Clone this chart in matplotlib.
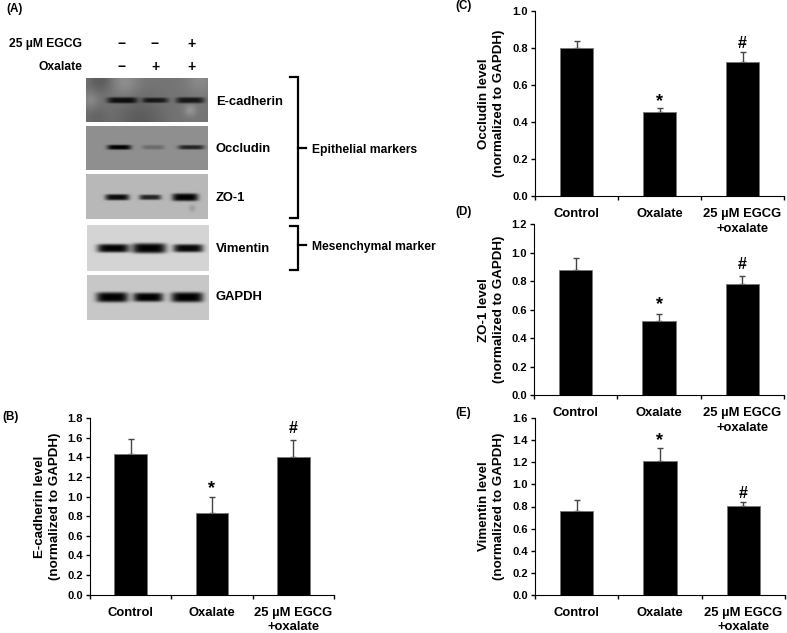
import numpy as np
import matplotlib
matplotlib.use('Agg')
import matplotlib.pyplot as plt

plt.rcParams['font.family'] = ['Liberation Sans', 'DejaVu Sans']
plt.rcParams['font.weight'] = 'bold'
plt.rcParams['axes.labelweight'] = 'bold'

W, H = 787, 633

# bar chart values
categories = ['Control', 'Oxalate', '25 µM EGCG\n+oxalate']
ecad_vals = [1.43, 0.83, 1.40]
ecad_err = [0.155, 0.17, 0.175]
occl_vals = [0.80, 0.455, 0.725]
occl_err = [0.037, 0.018, 0.053]
zo1_vals = [0.88, 0.52, 0.78]
zo1_err = [0.085, 0.05, 0.055]
vim_vals = [0.76, 1.215, 0.805]
vim_err = [0.095, 0.12, 0.035]
sig_marks = ['', '*', '#']

# treatment table of the blot
egcg_signs = ['−', '−', '+']
oxalate_signs = ['−', '+', '+']

# blot band strength per lane, 1 = black
ecad_bands = [0.40, 0.34, 0.38]
occl_bands = [0.56, 0.14, 0.42]
zo1_bands = [0.68, 0.58, 0.72]
vim_bands = [0.82, 0.82, 0.80]
gapdh_bands = [0.78, 0.78, 0.78]

fig = plt.figure(figsize=(W / 100, H / 100), dpi=100)


# overlay in pixel coordinates for panel A and the panel letters
ov = fig.add_axes([0, 0, 1, 1])
ov.axis('off')


def blot(x0, x1, y0, y1, bg, lanes, band_y, hw, hh, strength, blobs=()):
    xx, yy = np.meshgrid(np.arange(x0, x1, 0.5), np.arange(y0, y1, 0.5))
    img = np.full(xx.shape, bg, dtype=float)
    for bx, by, r, d in blobs:
        img += d * np.exp(-((xx - bx) ** 2 + (yy - by) ** 2) / r ** 2)
    for cx, w, h, s in zip(lanes, hw, hh, strength):
        img -= s * np.exp(-np.abs((xx - cx) / w) ** 5 - np.abs((yy - band_y) / h) ** 4)
    ov.imshow(np.clip(img, 0, 1), cmap='gray', vmin=0, vmax=1, aspect='auto',
              extent=[x0, x1, y1, y0], interpolation='bilinear')


blot(86, 208, 78, 122, 0.46, [122, 155, 190], 100, [15, 13, 14], [3, 2.6, 3], ecad_bands,
     blobs=[(100, 80, 12, -0.1), (140, 122, 25, -0.1), (96, 118, 12, -0.06), (190, 110, 6, 0.12),
            (125, 82, 14, 0.1), (200, 80, 14, 0.08), (90, 100, 8, 0.08)])
blot(86, 208, 126, 170, 0.56, [119, 153, 191], 147, [12, 11, 13], [2.4, 2.2, 2.2], occl_bands)
blot(86, 208, 174, 219, 0.72, [117, 150, 185], 197, [12, 11, 13], [3, 2.6, 3.8], zo1_bands,
     blobs=[(192, 208, 3, -0.12)])
blot(87, 209, 225, 271, 0.83, [113, 149, 188], 248, [16, 17, 15], [4.2, 5, 4], vim_bands)
blot(87, 209, 275, 320, 0.78, [112, 148, 187], 297, [16, 15, 16], [5, 4.5, 5], gapdh_bands)

# panel A text
ov.text(82, 44, '25 µM EGCG', ha='right', va='center', fontsize=8.75)
ov.text(82, 67, 'Oxalate', ha='right', va='center', fontsize=8.75)
for sx, a, b in zip([122, 155, 192], egcg_signs, oxalate_signs):
    ov.text(sx, 44, a, ha='center', va='center', fontsize=10)
    ov.text(sx, 67, b, ha='center', va='center', fontsize=10)
for name, ny in zip(['E-cadherin', 'Occludin', 'ZO-1', 'Vimentin', 'GAPDH'], [102, 149, 198, 249, 297]):
    ov.text(216, ny, name, ha='left', va='center', fontsize=9.4)
ov.text(312, 150, 'Epithelial markers', ha='left', va='center', fontsize=8.75)
ov.text(312, 247, 'Mesenchymal marker', ha='left', va='center', fontsize=8.75)

# brackets
ov.plot([290, 298, 298, 290], [77, 77, 218, 218], color='k', lw=1.6, solid_joinstyle='miter')
ov.plot([298, 306], [148, 148], color='k', lw=1.6)
ov.plot([290, 298, 298, 290], [226, 226, 270, 270], color='k', lw=1.6, solid_joinstyle='miter')
ov.plot([298, 306], [245, 245], color='k', lw=1.6)

# panel letters
for letter, lx, ly in [('(A)', 6, 9), ('(B)', 2, 417), ('(C)', 455, 6), ('(D)', 455, 212), ('(E)', 455, 413)]:
    ov.text(lx, ly, letter, ha='left', va='center', fontsize=8.4)

ov.set_xlim(0, W)
ov.set_ylim(H, 0)


def bar_panel(left, right, top, bottom, vals, errs, ymax, ystep, ylabel, label_right, gaps):
    ax = fig.add_axes([left / W, 1 - bottom / H, (right - left) / W, (bottom - top) / H])
    ax.patch.set_alpha(0)
    xpos = [0.5, 1.5, 2.5]
    ax.bar(xpos, vals, width=0.4, color='k', edgecolor='#777777', linewidth=0.6, zorder=2)
    ax.errorbar(xpos, vals, yerr=[[0, 0, 0], errs], fmt='none', ecolor='#444444', elinewidth=1,
                capsize=2.5, capthick=1, zorder=1)
    ax.set_xlim(0, 3)
    ax.set_ylim(0, ymax)
    ticks = np.arange(0, ymax + ystep / 2, ystep)
    ax.set_yticks(ticks)
    ax.set_yticklabels(['%.1f' % t for t in ticks], fontsize=8)
    ax.set_xticks([0, 1, 2, 3])
    ax.set_xticklabels([])
    ax.set_xticks(xpos, minor=True)
    ax.set_xticklabels(categories, minor=True, fontsize=9.4, linespacing=1.3)
    ax.tick_params(axis='x', which='minor', length=0, pad=8.5)
    ax.tick_params(axis='x', which='major', length=3, width=1, direction='out')
    ax.tick_params(axis='y', length=3, width=1, direction='out', pad=2)
    ax.spines['top'].set_visible(False)
    ax.spines['right'].set_visible(False)
    ax.set_ylabel(ylabel, fontsize=9.6, linespacing=1.3)
    ax.yaxis.set_label_coords((label_right - left) / (right - left), 0.5)
    # significance marks sit just over the error bars
    for x, v, e, m, g in zip(xpos, vals, errs, sig_marks, gaps):
        if m:
            ax.annotate(m, (x, v + e), xytext=(0, g), textcoords='offset points',
                        ha='center', va='center', fontsize=13 if m == '*' else 11.5)
    return ax


bar_panel(90, 334, 418, 594.7, ecad_vals, ecad_err, 1.8, 0.2, 'E-cadherin level\n(normalized to GAPDH)', 61,
          [0, 6, 8.6])
bar_panel(535, 784, 11, 196, occl_vals, occl_err, 1.0, 0.2, 'Occludin level\n(normalized to GAPDH)', 505,
          [0, 5, 6.5])
bar_panel(534, 784, 224, 395.3, zo1_vals, zo1_err, 1.2, 0.2, 'ZO-1 level\n(normalized to GAPDH)', 505,
          [0, 6.5, 8])
bar_panel(535, 785, 418.3, 594.7, vim_vals, vim_err, 1.6, 0.2, 'Vimentin level\n(normalized to GAPDH)', 505,
          [0, 5, 6.5])

fig.savefig('out.png', dpi=100)
